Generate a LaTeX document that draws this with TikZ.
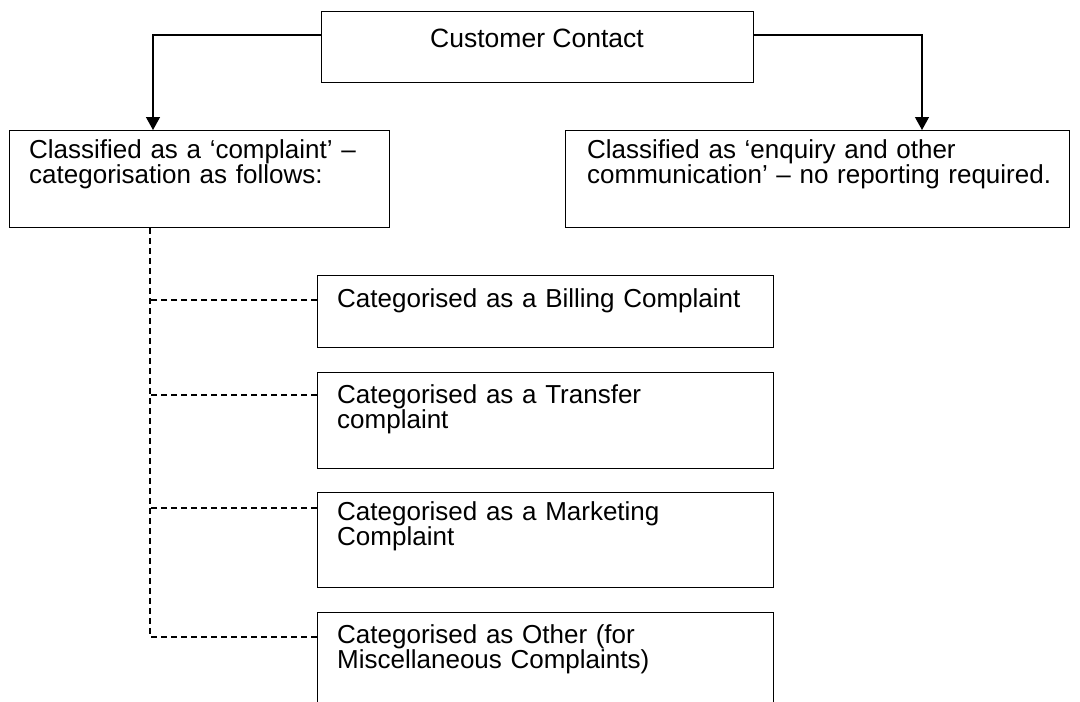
\documentclass[tikz,border=0pt]{standalone}
\usepackage{fontspec}
\setmainfont{Liberation Sans}
\usetikzlibrary{arrows.meta}
\begin{document}
\begin{tikzpicture}[x=1pt,y=-1pt,
  box/.style={draw, line width=1.3pt, rectangle, inner sep=0pt, anchor=north west},
  txt/.style={anchor=base west, inner sep=0pt, text width=700pt, align=left,
              font=\fontsize{26}{25}\selectfont},
  arr/.style={line width=1.3pt, -{Triangle[width=14pt,length=13pt]}},
  dline/.style={line width=1.1pt, dash pattern=on 6pt off 4pt}]
\useasboundingbox (0,0) rectangle (1080,702);
\clip (0,0) rectangle (1080,702);
% boxes
\node[box, minimum width=432pt, minimum height=71pt] (cc) at (321,11) {};
\node[box, minimum width=380pt, minimum height=97pt] (lb) at (9,130) {};
\node[box, minimum width=504pt, minimum height=97pt] (rb) at (565,130) {};
\node[box, minimum width=456pt, minimum height=72pt] (bil) at (317,275) {};
\node[box, minimum width=456pt, minimum height=96pt] (tra) at (317,372) {};
\node[box, minimum width=456pt, minimum height=95pt] (mar) at (317,492) {};
\node[box, minimum width=456pt, minimum height=110pt] (oth) at (317,612) {};
% texts
\node[anchor=base, inner sep=0pt, font=\fontsize{26.5}{25}\selectfont] (cct) at (537,47) {Customer Contact};
\node[txt] (lbt) at (29,158) {Classified as a ‘complaint’ –\\categorisation as follows:};
\node[txt] (rbt) at (587,158) {Classified as ‘enquiry and other\\communication’ – no reporting required.};
\node[txt] (bilt) at (337,307) {Categorised as a Billing Complaint};
\node[txt] (trat) at (337,403) {Categorised as a Transfer\\complaint};
\node[txt] (mart) at (337,520) {Categorised as a Marketing\\Complaint};
\node[txt] (otht) at (337,643) {Categorised as Other (for\\Miscellaneous Complaints)};
% arrows
\draw[arr] ([yshift=-24pt]cc.north west) -| ([xshift=144pt]lb.north west);
\draw[arr] ([yshift=-24pt]cc.north east) -| ([xshift=357pt]rb.north west);
% dashed tree
\coordinate (trunk) at ([xshift=141pt]lb.south west);
\draw[dline] (trunk) |- ([yshift=-25pt]oth.north west);
\draw[dline] ([yshift=-25pt]bil.north west) -- ++(-167,0);
\draw[dline] ([yshift=-23pt]tra.north west) -- ++(-167,0);
\draw[dline] ([yshift=-16pt]mar.north west) -- ++(-167,0);
\end{tikzpicture}
\end{document}
